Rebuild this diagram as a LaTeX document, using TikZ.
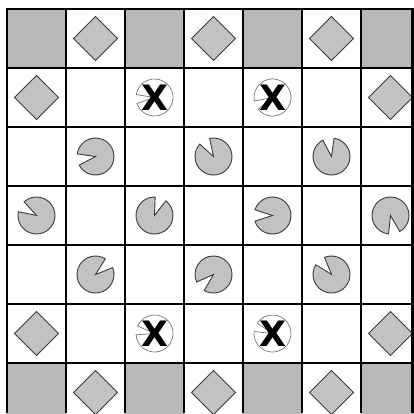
\documentclass[tikz,border=0pt]{standalone}
\usepackage{fontspec}
\newfontfamily\xfont{DejaVu Sans}
\definecolor{sqgray}{HTML}{B8B8B8}
\definecolor{shgray}{HTML}{C2C2C2}
\definecolor{edge}{HTML}{3C3C3C}
\tikzset{
  sq/.style={fill=sqgray},
  dia/.style={fill=shgray, draw=edge, line width=0.9pt, line join=miter},
  pac/.style={fill=shgray, draw=edge, line width=0.9pt},
  xpac/.style={fill=white, draw=edge!70, line width=0.7pt},
  gridline/.style={line width=1.8pt, black},
  border/.style={line width=2.8pt, black},
  xlabel/.style={font=\xfont\bfseries\fontsize{35}{35}\selectfont, inner sep=0pt, text=black}
}
\begin{document}
\begin{tikzpicture}[x=1pt,y=1pt]
\useasboundingbox (0,0) rectangle (414,413);
\clip (0,0) rectangle (414,413);
\fill[white] (0,0) rectangle (414,413);
% gray squares
\foreach \c in {0,2,4,6}{
  \foreach \r in {0,6}{
    \fill[sq] ({7+59*\c},{404-59*\r}) rectangle ({7+59*(\c+1)},{404-59*(\r+1)});
  }
}
% diamonds
\foreach \c/\r in {1/0,3/0,5/0,0/1,6/1,0/5,6/5,1/6,3/6,5/6}{
  \pgfmathsetmacro\x{36.5+59*\c}
  \pgfmathsetmacro\y{374.5-59*\r}
  \filldraw[dia] (\x+22,\y) -- (\x,\y+22) -- (\x-22,\y) -- (\x,\y-22) -- cycle;
}
% pacmen
\foreach \c/\r/\a in {1/2/190,3/2/120,5/2/100,0/3/150,2/3/70,4/3/180,6/3/282,1/4/40,3/4/222,5/4/130}{
  \pgfmathsetmacro\x{36.5+59*\c}
  \pgfmathsetmacro\y{374.5-59*\r}
  \filldraw[pac] (\x,\y) -- ++(\a+18:18.5) arc[start angle=\a+18, end angle=\a+342, radius=18.5] -- cycle;
}
% X circles
\foreach \c/\r/\a/\n in {2/1/185/a,4/1/205/b,2/5/170/c,4/5/160/d}{
  \pgfmathsetmacro\x{36.5+59*\c}
  \pgfmathsetmacro\y{374.5-59*\r}
  \filldraw[xpac] (\x,\y) -- ++(\a+14:18.5) arc[start angle=\a+14, end angle=\a+346, radius=18.5] -- cycle;
  \node[xlabel] (x\n) at (\x,\y) {X};
}
% grid
\foreach \k in {1,...,6}{
  \draw[gridline] ({7+59*\k},404) -- ({7+59*\k},0);
  \draw[gridline] (7,{404-59*\k}) -- (414,{404-59*\k});
}
\draw[border] (412.5,404) -- (412.5,0);
\draw[border] (7,0) -- (7,404) -- (414,404);
\end{tikzpicture}
\end{document}
